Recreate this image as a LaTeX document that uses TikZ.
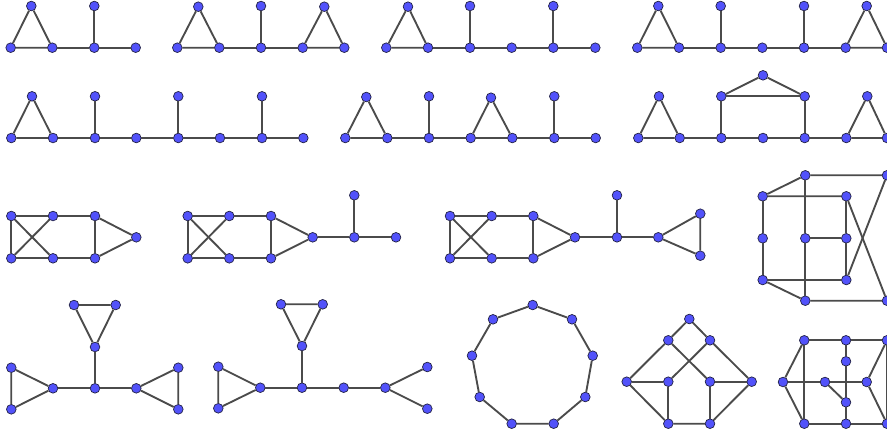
\documentclass[tikz,border=0pt]{standalone}
\usepackage{xcolor}
\usepackage{tikz}
\definecolor{vtxblue}{RGB}{82,82,250}
\definecolor{vtxline}{RGB}{35,35,70}
\definecolor{edgegray}{RGB}{75,75,75}
\tikzset{
  vtx/.style={circle, draw=vtxline, line width=0.6pt, fill=vtxblue, inner sep=0pt, minimum size=0.29cm},
  edge/.style={draw=edgegray, line width=1.6pt}
}

\begin{document}
\begin{tikzpicture}[x=0.03cm, y=-0.03cm]
  \useasboundingbox (0,0) rectangle (887,434);

  % row 1
  \node (a1) [vtx] at (10.7,47.7) {};
  \node (a2) [vtx] at (52.3,47.7) {};
  \node (a3) [vtx] at (31.3,6) {};
  \node (a4) [vtx] at (94.3,47.7) {};
  \node (a5) [vtx] at (94.3,6) {};
  \node (a6) [vtx] at (135.7,47.7) {};
  \draw [edge] (a1) -- (a2) -- (a3) -- (a1);
  \draw [edge] (a2) -- (a4) -- (a6);
  \draw [edge] (a4) -- (a5);

  \node (b1) [vtx] at (177.3,47.7) {};
  \node (b2) [vtx] at (219.3,47.7) {};
  \node (b3) [vtx] at (198.3,6.7) {};
  \node (b4) [vtx] at (261,47.7) {};
  \node (b5) [vtx] at (261,6) {};
  \node (b6) [vtx] at (302.7,47.7) {};
  \node (b7) [vtx] at (344.3,47.7) {};
  \node (b8) [vtx] at (324.3,6.7) {};
  \draw [edge] (b1) -- (b2) -- (b3) -- (b1);
  \draw [edge] (b2) -- (b4) -- (b6);
  \draw [edge] (b4) -- (b5);
  \draw [edge] (b6) -- (b7) -- (b8) -- (b6);

  \node (c1) [vtx] at (386.3,47.7) {};
  \node (c2) [vtx] at (428,47.7) {};
  \node (c3) [vtx] at (408,6.7) {};
  \node (c4) [vtx] at (470,47.7) {};
  \node (c5) [vtx] at (470,6) {};
  \node (c6) [vtx] at (511.7,47.7) {};
  \node (c7) [vtx] at (553.3,47.7) {};
  \node (c8) [vtx] at (553.3,6) {};
  \node (c9) [vtx] at (595.3,47.7) {};
  \draw [edge] (c1) -- (c2) -- (c3) -- (c1);
  \draw [edge] (c2) -- (c4) -- (c6) -- (c7) -- (c9);
  \draw [edge] (c4) -- (c5);
  \draw [edge] (c7) -- (c8);

  \node (d1) [vtx] at (637.3,47.7) {};
  \node (d2) [vtx] at (679,47.7) {};
  \node (d3) [vtx] at (658.3,6) {};
  \node (d4) [vtx] at (720.7,47.7) {};
  \node (d5) [vtx] at (720.7,6) {};
  \node (d6) [vtx] at (762.3,47.7) {};
  \node (d7) [vtx] at (804,47.7) {};
  \node (d8) [vtx] at (804,6) {};
  \node (d9) [vtx] at (845.7,47.7) {};
  \node (d10) [vtx] at (887,47.7) {};
  \node (d11) [vtx] at (866.7,6) {};
  \draw [edge] (d1) -- (d2) -- (d3) -- (d1);
  \draw [edge] (d2) -- (d4) -- (d6) -- (d7) -- (d9);
  \draw [edge] (d4) -- (d5);
  \draw [edge] (d7) -- (d8);
  \draw [edge] (d9) -- (d10) -- (d11) -- (d9);

  % row 2
  \node (e1) [vtx] at (11.3,138) {};
  \node (e2) [vtx] at (53,138) {};
  \node (e3) [vtx] at (32,96.3) {};
  \node (e4) [vtx] at (95,138) {};
  \node (e5) [vtx] at (95,96.3) {};
  \node (e6) [vtx] at (136.3,138) {};
  \node (e7) [vtx] at (178.3,138) {};
  \node (e8) [vtx] at (178.3,96.3) {};
  \node (e9) [vtx] at (220,138) {};
  \node (e10) [vtx] at (262,138) {};
  \node (e11) [vtx] at (262,96.3) {};
  \node (e12) [vtx] at (303.3,138) {};
  \draw [edge] (e1) -- (e2) -- (e3) -- (e1);
  \draw [edge] (e2) -- (e4) -- (e6) -- (e7) -- (e9) -- (e10) -- (e12);
  \draw [edge] (e4) -- (e5);
  \draw [edge] (e7) -- (e8);
  \draw [edge] (e10) -- (e11);

  \node (f1) [vtx] at (345.3,138) {};
  \node (f2) [vtx] at (387.3,138) {};
  \node (f3) [vtx] at (366.3,97) {};
  \node (f4) [vtx] at (429,138) {};
  \node (f5) [vtx] at (429,96.3) {};
  \node (f6) [vtx] at (470.7,138) {};
  \node (f7) [vtx] at (512.3,138) {};
  \node (f8) [vtx] at (491,97.7) {};
  \node (f9) [vtx] at (554.3,138) {};
  \node (f10) [vtx] at (554.3,96.3) {};
  \node (f11) [vtx] at (595.7,138) {};
  \draw [edge] (f1) -- (f2) -- (f3) -- (f1);
  \draw [edge] (f2) -- (f4) -- (f6);
  \draw [edge] (f4) -- (f5);
  \draw [edge] (f6) -- (f7) -- (f8) -- (f6);
  \draw [edge] (f7) -- (f9) -- (f11);
  \draw [edge] (f9) -- (f10);

  \node (g1) [vtx] at (638.3,138) {};
  \node (g2) [vtx] at (679.7,138) {};
  \node (g3) [vtx] at (659,96.3) {};
  \node (g4) [vtx] at (721.3,138) {};
  \node (g5) [vtx] at (721.3,96.3) {};
  \node (g6) [vtx] at (763,75.3) {};
  \node (g7) [vtx] at (804.7,96.3) {};
  \node (g8) [vtx] at (763,138) {};
  \node (g9) [vtx] at (804.7,138) {};
  \node (g10) [vtx] at (846.3,138) {};
  \node (g11) [vtx] at (887,138) {};
  \node (g12) [vtx] at (867.3,96.3) {};
  \draw [edge] (g1) -- (g2) -- (g3) -- (g1);
  \draw [edge] (g2) -- (g4) -- (g8) -- (g9) -- (g10);
  \draw [edge] (g4) -- (g5) -- (g7) -- (g9);
  \draw [edge] (g5) -- (g6) -- (g7);
  \draw [edge] (g10) -- (g11) -- (g12) -- (g10);

  % row 3
  \node (h1) [vtx] at (11.3,216) {};
  \node (h2) [vtx] at (53,216) {};
  \node (h3) [vtx] at (95,216) {};
  \node (h4) [vtx] at (11.3,258.3) {};
  \node (h5) [vtx] at (53,258.3) {};
  \node (h6) [vtx] at (95,258.3) {};
  \node (h7) [vtx] at (136.3,237.3) {};
  \draw [edge] (h1) -- (h2) -- (h3) -- (h6) -- (h5) -- (h4) -- (h1);
  \draw [edge] (h1) -- (h5);
  \draw [edge] (h2) -- (h4);
  \draw [edge] (h3) -- (h7) -- (h6);

  \node (i1) [vtx] at (187.7,216) {};
  \node (i2) [vtx] at (229.3,216) {};
  \node (i3) [vtx] at (271,216) {};
  \node (i4) [vtx] at (187.7,258.3) {};
  \node (i5) [vtx] at (229.3,258.3) {};
  \node (i6) [vtx] at (271,258.3) {};
  \node (i7) [vtx] at (312.7,237.3) {};
  \node (i8) [vtx] at (354.3,237.3) {};
  \node (i9) [vtx] at (354.3,195.3) {};
  \node (i10) [vtx] at (396,237.3) {};
  \draw [edge] (i1) -- (i2) -- (i3) -- (i6) -- (i5) -- (i4) -- (i1);
  \draw [edge] (i1) -- (i5);
  \draw [edge] (i2) -- (i4);
  \draw [edge] (i3) -- (i7) -- (i6);
  \draw [edge] (i7) -- (i8) -- (i10);
  \draw [edge] (i8) -- (i9);

  \node (j1) [vtx] at (450,216) {};
  \node (j2) [vtx] at (491.7,216) {};
  \node (j3) [vtx] at (533.3,216) {};
  \node (j4) [vtx] at (450,258.3) {};
  \node (j5) [vtx] at (491.7,258.3) {};
  \node (j6) [vtx] at (533.3,258.3) {};
  \node (j7) [vtx] at (575,237.3) {};
  \node (j8) [vtx] at (617,237.3) {};
  \node (j9) [vtx] at (617,195.3) {};
  \node (j10) [vtx] at (658.3,237.3) {};
  \node (j11) [vtx] at (700.3,213.7) {};
  \node (j12) [vtx] at (700.3,255.7) {};
  \draw [edge] (j1) -- (j2) -- (j3) -- (j6) -- (j5) -- (j4) -- (j1);
  \draw [edge] (j1) -- (j5);
  \draw [edge] (j2) -- (j4);
  \draw [edge] (j3) -- (j7) -- (j6);
  \draw [edge] (j7) -- (j8) -- (j10);
  \draw [edge] (j8) -- (j9);
  \draw [edge] (j10) -- (j11) -- (j12) -- (j10);

  \node (k1) [vtx] at (805.3,175.3) {};
  \node (k2) [vtx] at (762.7,196.3) {};
  \node (k3) [vtx] at (846.3,196.3) {};
  \node (k4) [vtx] at (762.7,238.3) {};
  \node (k5) [vtx] at (805.3,238.3) {};
  \node (k6) [vtx] at (846.3,238.3) {};
  \node (k7) [vtx] at (762.7,280) {};
  \node (k8) [vtx] at (846.3,280) {};
  \node (k9) [vtx] at (805.3,300.7) {};
  \node (k10) [vtx] at (887,175.3) {};
  \node (k11) [vtx] at (887,300.7) {};
  \draw [edge] (k10) -- (k1) -- (k2) -- (k3);
  \draw [edge] (k1) -- (k5) -- (k9);
  \draw [edge] (k2) -- (k4) -- (k7);
  \draw [edge] (k5) -- (k6);
  \draw [edge] (k3) -- (k6) -- (k8);
  \draw [edge] (k8) -- (k7) -- (k9) -- (k11);
  \draw [edge] (k3) -- (k11);
  \draw [edge] (k8) -- (k10);

  % row 4
  \node (l1) [vtx] at (74,305) {};
  \node (l2) [vtx] at (115.7,305) {};
  \node (l3) [vtx] at (95,347) {};
  \node (l4) [vtx] at (11.3,367.7) {};
  \node (l5) [vtx] at (11.3,409.3) {};
  \node (l6) [vtx] at (53,388.3) {};
  \node (l7) [vtx] at (95,388.3) {};
  \node (l8) [vtx] at (136.3,388.3) {};
  \node (l9) [vtx] at (178.3,367.7) {};
  \node (l10) [vtx] at (178.3,409.3) {};
  \draw [edge] (l1) -- (l2) -- (l3) -- (l1);
  \draw [edge] (l3) -- (l7);
  \draw [edge] (l4) -- (l5) -- (l6) -- (l4);
  \draw [edge] (l6) -- (l7) -- (l8);
  \draw [edge] (l8) -- (l9) -- (l10) -- (l8);

  \node (m1) [vtx] at (281,304.3) {};
  \node (m2) [vtx] at (322.7,304.3) {};
  \node (m3) [vtx] at (302,346) {};
  \node (m4) [vtx] at (218.3,366.7) {};
  \node (m5) [vtx] at (218.3,408.3) {};
  \node (m6) [vtx] at (260.3,387.7) {};
  \node (m7) [vtx] at (302,387.7) {};
  \node (m8) [vtx] at (343.7,387.7) {};
  \node (m9) [vtx] at (385.3,387.7) {};
  \node (m10) [vtx] at (427.3,367) {};
  \node (m11) [vtx] at (427.3,408.7) {};
  \draw [edge] (m1) -- (m2) -- (m3) -- (m1);
  \draw [edge] (m3) -- (m7);
  \draw [edge] (m4) -- (m5) -- (m6) -- (m4);
  \draw [edge] (m6) -- (m7) -- (m8) -- (m9);
  \draw [edge] (m10) -- (m9) -- (m11);

  \node (n1) [vtx] at (532.7,305) {};
  \node (n2) [vtx] at (572,319.3) {};
  \node (n3) [vtx] at (592.7,355.7) {};
  \node (n4) [vtx] at (585.3,397) {};
  \node (n5) [vtx] at (553.7,423.7) {};
  \node (n6) [vtx] at (511.7,423.7) {};
  \node (n7) [vtx] at (479.7,397) {};
  \node (n8) [vtx] at (472,355.7) {};
  \node (n9) [vtx] at (493,319.3) {};
  \draw [edge] (n1) -- (n2) -- (n3) -- (n4) -- (n5) -- (n6) -- (n7) -- (n8) -- (n9) -- (n1);

  \node (o1) [vtx] at (689.3,319) {};
  \node (o2) [vtx] at (668.3,340.3) {};
  \node (o3) [vtx] at (710,340.3) {};
  \node (o4) [vtx] at (626.7,381.7) {};
  \node (o5) [vtx] at (668.3,381.7) {};
  \node (o6) [vtx] at (710,381.7) {};
  \node (o7) [vtx] at (751.7,381.7) {};
  \node (o8) [vtx] at (668.3,423.7) {};
  \node (o9) [vtx] at (710,423.7) {};
  \draw [edge] (o4) -- (o2) -- (o1) -- (o3) -- (o7);
  \draw [edge] (o2) -- (o6);
  \draw [edge] (o3) -- (o5);
  \draw [edge] (o4) -- (o5) -- (o8);
  \draw [edge] (o7) -- (o6) -- (o9);
  \draw [edge] (o4) -- (o8) -- (o9) -- (o7);

  \node (p1) [vtx] at (804.3,340.3) {};
  \node (p2) [vtx] at (846,340.3) {};
  \node (p3) [vtx] at (887,340.3) {};
  \node (p4) [vtx] at (846,361.3) {};
  \node (p5) [vtx] at (783,382) {};
  \node (p6) [vtx] at (825,382) {};
  \node (p7) [vtx] at (866.7,382) {};
  \node (p8) [vtx] at (846,402.3) {};
  \node (p9) [vtx] at (804.3,423.7) {};
  \node (p10) [vtx] at (846,423.7) {};
  \node (p11) [vtx] at (887,423.7) {};
  \draw [edge] (p1) -- (p2) -- (p3);
  \draw [edge] (p1) -- (p9);
  \draw [edge] (p1) -- (p5) -- (p9);
  \draw [edge] (p5) -- (p6) -- (p7);
  \draw [edge] (p2) -- (p4) -- (p8) -- (p10);
  \draw [edge] (p6) -- (p8);
  \draw [edge] (p3) -- (p7) -- (p11);
  \draw [edge] (p9) -- (p10) -- (p11);
  \draw [edge] (p3) -- (p11);
\end{tikzpicture}
\end{document}
